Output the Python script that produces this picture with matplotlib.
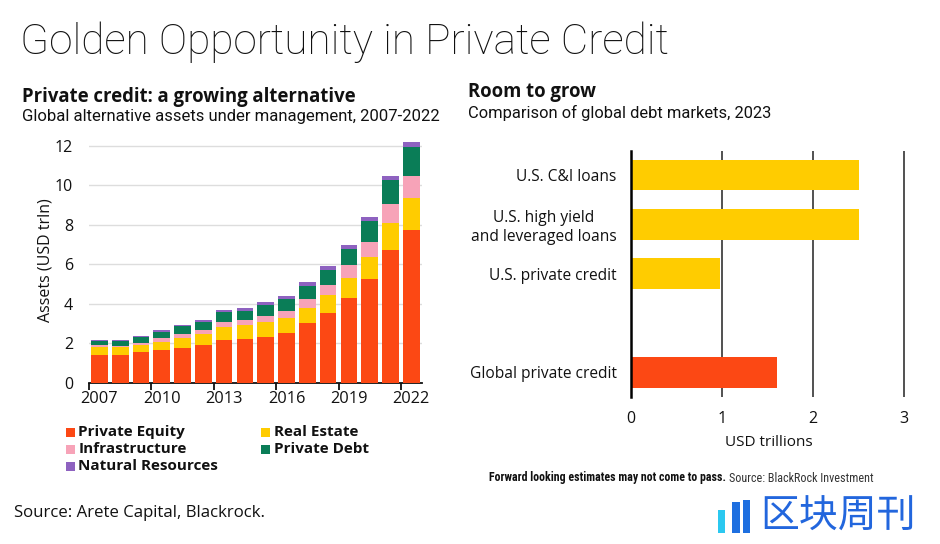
import matplotlib
matplotlib.use("Agg")
import matplotlib.pyplot as plt
from matplotlib.patches import Rectangle
from matplotlib import font_manager
import numpy as np

plt.rcParams['font.family'] = ['Open Sans', 'DejaVu Sans']

# ---------------- Data: left chart ----------------
years = list(range(2007, 2023))
private_equity = [1.42, 1.40, 1.55, 1.69, 1.77, 1.93, 2.16, 2.21, 2.35, 2.52, 3.03, 3.53, 4.29, 5.26, 6.74, 7.76]
real_estate    = [0.39, 0.41, 0.38, 0.41, 0.53, 0.55, 0.68, 0.71, 0.76, 0.76, 0.77, 0.91, 1.02, 1.13, 1.36, 1.59]
infrastructure = [0.12, 0.08, 0.11, 0.16, 0.20, 0.22, 0.25, 0.29, 0.30, 0.37, 0.46, 0.53, 0.64, 0.73, 0.94, 1.13]
private_debt   = [0.18, 0.22, 0.28, 0.33, 0.37, 0.39, 0.48, 0.44, 0.53, 0.59, 0.66, 0.73, 0.83, 1.08, 1.22, 1.47]
natural_res    = [0.07, 0.07, 0.06, 0.08, 0.09, 0.10, 0.11, 0.15, 0.15, 0.17, 0.18, 0.22, 0.22, 0.20, 0.22, 0.25]
series_names = ["Private Equity", "Real Estate", "Infrastructure", "Private Debt", "Natural Resources"]
series_colors = ["#FC4814", "#FFCC00", "#F7A3B8", "#0A7D57", "#8E62C0"]
year_ticks = [2007, 2010, 2013, 2016, 2019, 2022]

# ---------------- Data: right chart ----------------
markets = ["U.S. C&I loans", "U.S. high yield\nand leveraged loans", "U.S. private credit", "Global private credit"]
market_values = [2.5, 2.5, 0.98, 1.6]
market_pos = [0, 1, 2, 4]
market_colors = ["#FFCC00", "#FFCC00", "#FFCC00", "#FC4814"]

# pick a narrow font for the footer if one is installed
installed = {f.name for f in font_manager.fontManager.ttflist}
narrow = [n for n in ['Roboto Condensed', 'Liberation Sans Narrow', 'Open Sans Condensed'] if n in installed]
footer_family = narrow[:1] + ['Roboto', 'DejaVu Sans']

fig = plt.figure(figsize=(9.4, 5.44), dpi=100)
W, H = 940, 544
renderer = fig.canvas.get_renderer()


def fx(px):
    return px / W


def fy(py):
    return 1 - py / H


def fit_text(px, py, s, target_w, size, color='#111111', **kw):
    t = fig.text(fx(px), fy(py), s, fontsize=size, va='center', ha='left', color=color, **kw)
    w = t.get_window_extent(renderer=renderer).width
    if w > 0:
        t.set_fontsize(size * target_w / w)
    return t


# Titles
fit_text(20, 42, "Golden Opportunity in Private Credit", 650, 28, family=['Roboto', 'DejaVu Sans'], fontweight='light')
fit_text(22, 97, "Private credit: a growing alternative", 331, 13, fontweight='bold')
fit_text(22, 117, "Global alternative assets under management, 2007-2022", 418, 11, family=['Roboto', 'DejaVu Sans'])
fit_text(468, 92, "Room to grow", 127, 13, fontweight='bold')
fit_text(468, 113, "Comparison of global debt markets, 2023", 302, 11, family=['Roboto', 'DejaVu Sans'])

# ---------------- Left chart ----------------
axL = fig.add_axes([fx(89), fy(383), (421.7 - 89) / W, 245 / H])
x = np.arange(len(years))
bottom = np.zeros(len(years))
for vals, name, col in zip([private_equity, real_estate, infrastructure, private_debt, natural_res],
                           series_names, series_colors):
    axL.bar(x, vals, bottom=bottom, width=0.8, color=col, label=name, zorder=3)
    bottom += np.array(vals)
axL.set_xlim(-0.5, len(years) - 0.5)
axL.set_ylim(0, 12.4)
axL.set_yticks([0, 2, 4, 6, 8, 10, 12])
axL.grid(axis='y', color='#dddddd', linewidth=1, zorder=0)
for s in ['top', 'right', 'left']:
    axL.spines[s].set_visible(False)
axL.spines['bottom'].set_color('#111111')
axL.spines['bottom'].set_linewidth(1.3)
tick_idx = [years.index(y) for y in year_ticks]
axL.set_xticks([i - 0.5 for i in tick_idx])
axL.set_xticklabels([])
axL.set_xticks(tick_idx, minor=True)
axL.set_xticklabels([str(y) for y in year_ticks], minor=True)
axL.tick_params(axis='x', which='major', length=5, width=1.3, color='#111111')
axL.tick_params(axis='x', which='minor', length=0, labelsize=11.8, pad=6, labelcolor='#111111')
axL.tick_params(axis='y', length=0, labelsize=11.5, pad=11.5, labelcolor='#111111')
axL.set_ylabel("Assets (USD trln)", fontsize=11.5, color='#111111', labelpad=1)

# Legend
leg_pos = [(70, 432), (265, 432), (70, 449), (265, 449), (70, 466)]
for i, (px, py) in enumerate(leg_pos):
    fig.patches.append(Rectangle((fx(px - 4.5), fy(py + 4.5)), 9 / W, 9 / H, transform=fig.transFigure,
                                 facecolor=series_colors[i], edgecolor='none'))
    fig.text(fx(px + 8.5), fy(py), series_names[i], fontsize=11, fontweight='bold', va='center', ha='left',
             color='#111111')

fit_text(14, 513, "Source: Arete Capital, Blackrock.", 249, 12)

# ---------------- Right chart ----------------
axR = fig.add_axes([fx(630.7), fy(397), (904.3 - 630.7) / W * 3.03 / 3, 246 / H])
axR.barh(market_pos, market_values, height=0.62, color=market_colors, zorder=3)
axR.set_xlim(0, 3.03)
axR.set_ylim(4.5, -0.49)
axR.set_xticks([0, 1, 2, 3])
axR.grid(axis='x', color='#333333', linewidth=1.2, zorder=0)
for s in ['top', 'right', 'bottom']:
    axR.spines[s].set_visible(False)
axR.spines['left'].set_color('#000000')
axR.spines['left'].set_linewidth(1.8)
axR.spines['left'].set_zorder(4)
axR.set_yticks(market_pos)
axR.set_yticklabels(markets, multialignment='center')
axR.tick_params(axis='y', length=0, labelsize=11.2, pad=10, labelcolor='#111111')
axR.tick_params(axis='x', length=0, labelsize=11.5, pad=10, labelcolor='#111111')
axR.set_xlabel("USD trillions", fontsize=11, color='#111111', labelpad=6)

# Footer on right
fit_text(489, 478, "Forward looking estimates may not come to pass.", 236, 9,
         family=footer_family, fontweight='bold')
fit_text(729, 478, "Source: BlackRock Investment", 145, 9, color='#333333', family=footer_family)

# Watermark
for (x0, y0, w, c) in [(718, 510, 7, '#2BC8F0'), (732, 502, 8, '#1E6FE0'), (743, 500, 7, '#1E6FE0')]:
    fig.patches.append(Rectangle((fx(x0), fy(533)), w / W, (533 - y0) / H, transform=fig.transFigure,
                                 facecolor=c, edgecolor='none'))
fig.text(fx(760), fy(517), "区块周刊", fontsize=28, family=['Noto Sans CJK SC', 'DejaVu Sans'],
         color='#2266DD', va='center', ha='left')

fig.savefig("out.png", dpi=100)
